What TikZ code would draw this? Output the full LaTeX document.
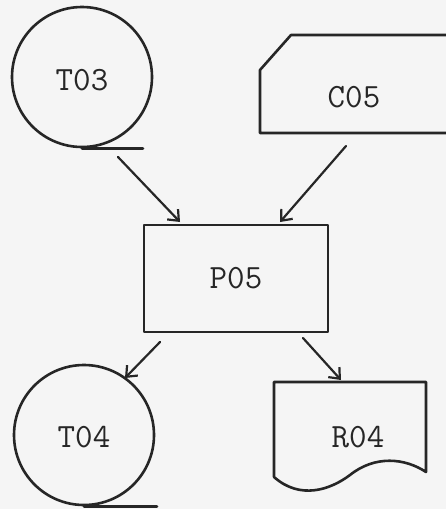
\documentclass[tikz,border=0pt]{standalone}
\usetikzlibrary{arrows.meta}
\begin{document}
\begin{tikzpicture}[x=1pt,y=-1pt, line width=2.6pt, line join=round, line cap=round,
  lbl/.style={font=\ttfamily\fontsize{34}{34}\selectfont, text=black!85, inner sep=0pt},
  tape/.style={circle, draw=black!85, minimum size=140pt, inner sep=0pt},
  flow/.style={draw=black!85, -{Straight Barb[length=9pt,width=15pt,line width=2.2pt]}, line width=2.2pt}]
\fill[black!4] (0,0) rectangle (446,509);
\useasboundingbox (0,0) rectangle (446,509);
% T03 tape
\node[tape] (t03) at (82,77) {};
\node[lbl] (t03l) at (82,80) {T03};
\draw[black!85] (t03.south) -- ++(61,0);
% C05 card
\draw[black!85] (446,35) -- (291,35) -- (260,70) -- (260,133) -- (446,133);
\node[lbl] (c05) at (354,97) {C05};
% P05 process
\node[draw=black!85, minimum width=184pt, minimum height=107pt, inner sep=0pt] (p05) at (236,278.5) {};
\node[lbl] (p05l) at (236,278) {P05};
% T04 tape
\node[tape] (t04) at (84,435) {};
\node[lbl] (t04l) at (84,437) {T04};
\draw[black!85] (t04.south) -- ++(73,0);
% R04 document
\draw[black!85] (274,477) -- (274,382) -- (426,382) -- (426,472)
  .. controls (405,458) and (375,455) .. (350,475)
  .. controls (330,490) and (300,500) .. (274,477);
\node[lbl] (r04) at (358,437) {R04};
% connectors
\coordinate (a1s) at (118,157); \coordinate (a1e) at (180,222);
\coordinate (a2s) at (346,146); \coordinate (a2e) at (280,222);
\coordinate (a3s) at (160,342); \coordinate (a3e) at (125,378);
\coordinate (a4s) at (303,338); \coordinate (a4e) at (341,380);
\draw[flow] (a1s) -- (a1e);
\draw[flow] (a2s) -- (a2e);
\draw[flow] (a3s) -- (a3e);
\draw[flow] (a4s) -- (a4e);
\end{tikzpicture}
\end{document}
